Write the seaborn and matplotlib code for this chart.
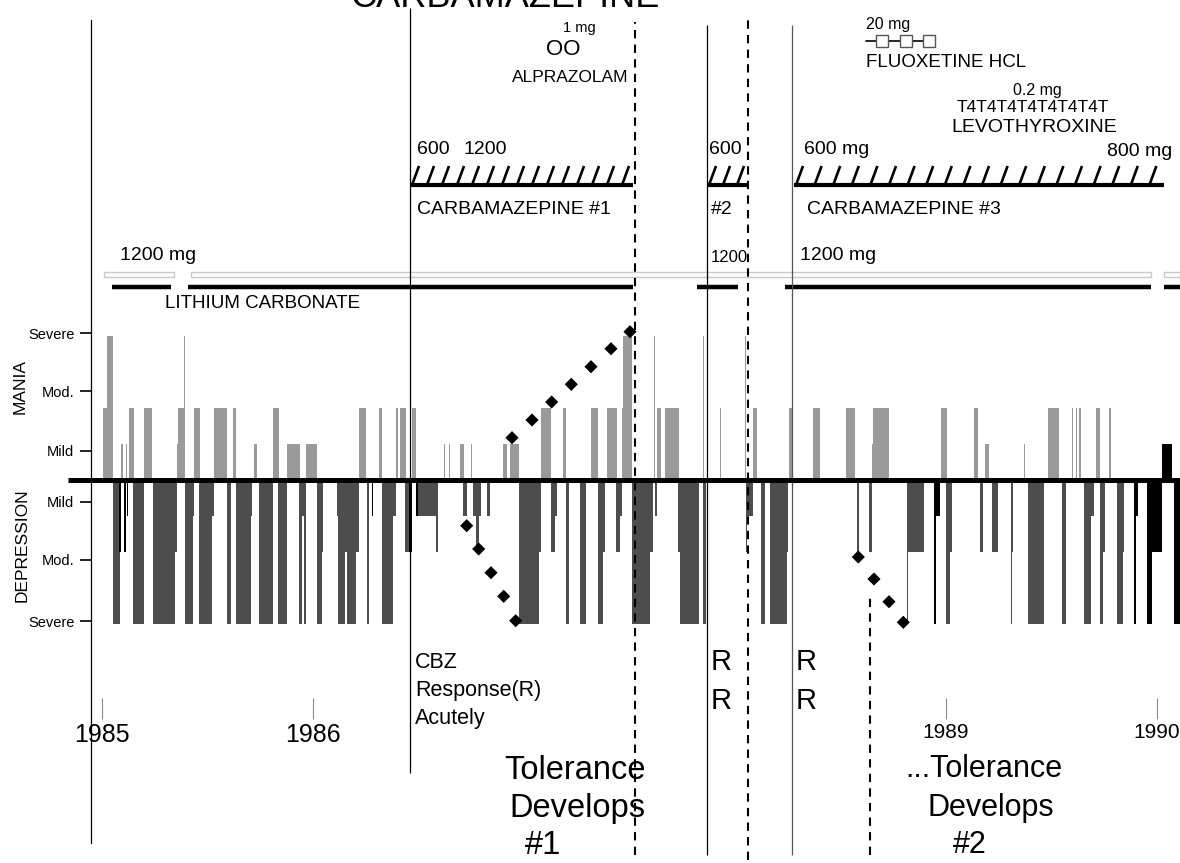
import numpy as np
import matplotlib
matplotlib.use("Agg")
import matplotlib.pyplot as plt
from matplotlib import font_manager as fm
from matplotlib.collections import LineCollection
import seaborn as sns

# ------------------------------------------------------------------ data
# Mood episodes in decimal years. Level: 1 = mild, 2 = moderate, 4 = severe
mania_start = [1985.0085, 1985.0275, 1985.0924, 1985.1161, 1985.1303, 1985.2014, 1985.3578, 1985.3640,
               1985.3924, 1985.4384, 1985.5332, 1985.6218, 1985.7227, 1985.8128, 1985.8806, 1985.9692,
               1986.2204, 1986.3166, 1986.3943, 1986.4147, 1986.4730, 1986.6232, 1986.6469, 1986.6991,
               1986.7512, 1986.9014, 1986.9360, 1987.0844, 1987.1872, 1987.3185, 1987.3972, 1987.4682,
               1987.4730, 1987.6199, 1987.6313, 1987.6706, 1987.8493, 1987.9313, 1988.0498, 1988.0891,
               1988.2569, 1988.3706, 1988.5284, 1988.6531, 1988.6578, 1988.9787, 1989.1351, 1989.1872,
               1989.3735, 1989.4844, 1989.6009, 1989.6171, 1989.6327, 1989.7133, 1989.7749]
mania_end = [1985.0275, 1985.0559, 1985.1033, 1985.1209, 1985.1540, 1985.2393, 1985.3640, 1985.3924,
             1985.3957, 1985.4668, 1985.5934, 1985.6374, 1985.7355, 1985.8412, 1985.9408, 1986.0199,
             1986.2521, 1986.3294, 1986.4038, 1986.4417, 1986.4891, 1986.6280, 1986.6517, 1986.7180,
             1986.7573, 1986.9204, 1986.9787, 1987.1289, 1987.2000, 1987.3531, 1987.4417, 1987.4730,
             1987.5156, 1987.6246, 1987.6517, 1987.7370, 1987.8540, 1987.9360, 1988.0545, 1988.1081,
             1988.2787, 1988.4052, 1988.5711, 1988.6578, 1988.7336, 1989.0057, 1989.1526, 1989.2062,
             1989.3768, 1989.5379, 1989.6057, 1989.6218, 1989.6408, 1989.7322, 1989.7829]
mania_level = [2, 4, 1, 1, 2, 2, 1, 2,
               4, 2, 2, 2, 1, 2, 1, 1,
               2, 2, 2, 2, 2, 1, 1, 1,
               1, 1, 1, 2, 2, 2, 2, 2,
               4, 4, 2, 2, 4, 2, 4, 2,
               2, 2, 2, 1, 2, 2, 2, 1,
               1, 2, 2, 2, 2, 2, 2]

depr_start = [1985.0559, 1985.1507, 1985.2427, 1985.3483, 1985.3957, 1985.4322, 1985.4635, 1985.5251,
              1985.5962, 1985.6360, 1985.7071, 1985.7464, 1985.8365, 1985.9374, 1985.9502, 1985.9597,
              1986.0199, 1986.0436, 1986.1147, 1986.1223, 1986.1540, 1986.1621, 1986.2062, 1986.2569,
              1986.3294, 1986.3815, 1986.4384, 1986.5014, 1986.5839, 1986.7118, 1986.7592, 1986.7749,
              1986.8284, 1986.9787, 1987.0735, 1987.1303, 1987.1493, 1987.2000, 1987.2664, 1987.3517,
              1987.3754, 1987.4398, 1987.4573, 1987.5156, 1987.5995, 1987.6246, 1987.7336, 1987.7431,
              1987.8521, 1988.0531, 1988.0578, 1988.1256, 1988.1682, 1988.2474, 1988.5820, 1988.6374,
              1988.8161, 1988.8237, 1989.0024, 1989.0213, 1989.1635, 1989.2204, 1989.3090, 1989.3152,
              1989.3896, 1989.5507, 1989.6564, 1989.6882, 1989.7322, 1989.7450, 1989.8114, 1989.8398]
depr_end = [1985.0877, 1985.2014, 1985.3483, 1985.3592, 1985.4322, 1985.4384, 1985.5251, 1985.5332,
            1985.6123, 1985.7071, 1985.7147, 1985.8128, 1985.8777, 1985.9502, 1985.9597, 1985.9692,
            1986.0436, 1986.0512, 1986.1223, 1986.1540, 1986.1621, 1986.2062, 1986.2204, 1986.2678,
            1986.3815, 1986.3943, 1986.4573, 1986.5839, 1986.5962, 1986.7308, 1986.7986, 1986.7891,
            1986.8412, 1987.0735, 1987.0844, 1987.1493, 1987.1573, 1987.2156, 1987.2948, 1987.3754,
            1987.3863, 1987.4573, 1987.4654, 1987.5995, 1987.6152, 1987.6313, 1987.7431, 1987.8332,
            1987.8635, 1988.0578, 1988.0891, 1988.1445, 1988.2474, 1988.2550, 1988.5915, 1988.6502,
            1988.8237, 1988.8981, 1989.0213, 1989.0294, 1989.1763, 1989.2474, 1989.3152, 1989.3213,
            1989.4682, 1989.5711, 1989.6882, 1989.7038, 1989.7450, 1989.7559, 1989.8398, 1989.8460]
depr_level = [-4, -4, -4, -2, -4, -1, -4, -1,
              -4, -4, -1, -4, -4, -4, -1, -4,
              -4, -2, -1, -4, -2, -4, -2, -4,
              -4, -1, -2, -1, -2, -1, -1, -2,
              -1, -4, -2, -2, -1, -4, -4, -4,
              -2, -2, -1, -4, -2, -1, -2, -4,
              -4, -2, -1, -4, -4, -2, -2, -2,
              -4, -2, -4, -2, -2, -2, -4, -2,
              -4, -4, -4, -1, -4, -2, -4, -2]

# Episodes drawn in solid black
marked_start = [1985.0848, 1985.1066, 1985.1209, 1986.2806, 1986.4573, 1986.4891, 1988.9455, 1988.9550,
                1989.8948, 1989.9028, 1989.9536, 1989.9773, 1990.0844, 1990.0275]
marked_end = [1985.0924, 1985.1161, 1985.1270, 1986.2882, 1986.4730, 1986.5014, 1988.9550, 1988.9739,
              1989.9028, 1989.9137, 1989.9773, 1990.0246, 1990.1114, 1990.0720]
marked_level = [-2, -2, -1, -1, -2, -1, -4, -1,
                -4, -1, -4, -2, -4, 1]

# Medication courses (decimal years)
lithium_on_start = [1985.0498, 1985.4100, 1987.8223, 1988.2393, 1990.0355]
lithium_on_end = [1985.3294, 1987.5190, 1988.0166, 1989.9739, 1990.1114]
lithium_band_start = [1985.0118, 1985.4242, 1990.0355]
lithium_band_end = [1985.3436, 1989.9739, 1990.1114]
cbz_start = [1986.4621, 1987.8697, 1988.2820]
cbz_end = [1987.5190, 1988.0592, 1990.0355]
fluoxetine_dose_dates = [1988.6991, 1988.8128, 1988.9218]
fluoxetine_first = 1988.6232

# Event markers (decimal years)
response_dates = [1986.4621, 1987.8697, 1988.2725]
tolerance_dates = [1987.5284, 1988.0640, 1988.6422]

# Tolerance trend (diamonds)
tol1_rise_x = [1986.9455, 1987.0403, 1987.1336, 1987.2265, 1987.3199, 1987.4147, 1987.5047]
tol1_rise_y = [1.175, 1.667, 2.167, 2.658, 3.147, 3.647, 4.119]
tol1_fall_x = [1986.7308, 1986.7877, 1986.8460, 1986.9062, 1986.9630]
tol1_fall_y = [-1.269, -1.917, -2.575, -3.231, -3.908]
tol2_fall_x = [1988.5867, 1988.6611, 1988.7322, 1988.8000]
tol2_fall_y = [-2.139, -2.750, -3.381, -3.953]

severity_ticks = [4.083, 2.472, 0.806, -0.611, -2.222, -3.917]
severity_labels = ["Severe", "Mod.", "Mild", "Mild", "Mod.", "Severe"]
year_ticks = [1985, 1986, 1989, 1990]
year_labels = ["1985", "1986", "1989", "1990"]

# ------------------------------------------------------------------ style
sns.set_theme(style="white")


def has_font(name):
    try:
        fm.findfont(fm.FontProperties(family=name), fallback_to_default=False)
        return True
    except Exception:
        return False


REG = "Liberation Sans" if has_font("Liberation Sans") else "DejaVu Sans"
plt.rcParams["font.family"] = [REG, "DejaVu Sans"]

MANIA_C = "#9a9a9a"
DEPR_C = "#4d4d4d"

W, H = 1180, 863
fig = plt.figure(figsize=(W / 100, H / 100), dpi=100)
fig.patch.set_facecolor("white")
AX_LEFT = 91
ax = fig.add_axes([AX_LEFT / W, 0, 1 - AX_LEFT / W, 1])
ax.set_facecolor("white")

X0, PXY, BASE, PXU = 101.5, 211.0, 480.0, 36.0


def fx(px):
    return 1985 + (px - X0) / PXY


def fy(py):
    return (BASE - py) / PXU


ax.set_xlim(fx(AX_LEFT), fx(W))
ax.set_ylim(fy(H), fy(0))

# ------------------------------------------------------------------ mood bars
for s, e, lv, c in [(mania_start, mania_end, mania_level, MANIA_C),
                    (depr_start, depr_end, depr_level, DEPR_C),
                    (marked_start, marked_end, marked_level, "black")]:
    s = np.asarray(s)
    e = np.asarray(e)
    ax.bar(s, lv, width=e - s, align="edge", color=c, linewidth=0, zorder=2)

# baseline
ax.hlines(0, fx(68), fx(W), color="black", lw=3.6, zorder=5, clip_on=False)

# ------------------------------------------------------------------ event lines
resp_tops = [8, 25, 25]
resp_bottoms = [773, 855, 855]
resp_colors = ["black", "black", "#555555"]
for d, t, b, c in zip(response_dates, resp_tops, resp_bottoms, resp_colors):
    ax.vlines(d, fy(b), fy(t), color=c, lw=0.9, zorder=4)
tol_tops = [22, 18, 596]
tol_bottoms = [855, 860, 855]
for d, t, b in zip(tolerance_dates, tol_tops, tol_bottoms):
    ax.vlines(d, fy(b), fy(t), color="black", lw=1.5, linestyles=(0, (4, 3)), zorder=4)

# ------------------------------------------------------------------ tolerance diamonds
for xs, ys in [(tol1_rise_x, tol1_rise_y), (tol1_fall_x, tol1_fall_y), (tol2_fall_x, tol2_fall_y)]:
    sns.scatterplot(x=xs, y=ys, marker="D", s=45, color="black", edgecolor="none",
                    ax=ax, zorder=6, legend=False)

# ------------------------------------------------------------------ lithium
for s, e in zip(lithium_band_start, lithium_band_end):
    ax.bar(s, fy(272) - fy(277), bottom=fy(277), width=e - s, align="edge",
           facecolor="white", edgecolor="#c8c8c8", linewidth=1.0, zorder=2)
ax.hlines([fy(287)] * len(lithium_on_start), lithium_on_start, lithium_on_end,
          color="black", lw=3.2, zorder=3)

# ------------------------------------------------------------------ carbamazepine (hatched)
hatch_step = [15, 14, 18.6]
segs = []
for s, e, st in zip(cbz_start, cbz_end, hatch_step):
    for x0 in np.arange(s + 2 / PXY, e - 6 / PXY, st / PXY):
        segs.append([(x0, fy(185)), (x0 + 7 / PXY, fy(166))])
ax.add_collection(LineCollection(segs, colors="black", linewidths=1.9, zorder=3, capstyle="butt"))
ax.hlines([fy(185.5)] * len(cbz_start), cbz_start, cbz_end, color="black", lw=3.0, zorder=3)

# ------------------------------------------------------------------ fluoxetine
ax.plot([fluoxetine_first] + fluoxetine_dose_dates, [fy(41)] * 4, color="black", lw=1.2,
        marker="s", markevery=[1, 2, 3], ms=8.5, mfc="white", mec="#555555", mew=1.0, zorder=3)


# ------------------------------------------------------------------ texts
def T(px, py, s, size, ha="left", va="center", **kw):
    ax.text(fx(px), fy(py), s, fontsize=size, ha=ha, va=va,
            color="black", clip_on=False, zorder=7, **kw)


T(505, 7, "CARBAMAZEPINE", 26, ha="center", va="baseline")
T(579, 28, "1 mg", 10.5, ha="center")
T(563, 50, "OO", 16, ha="center")
T(570, 78, "ALPRAZOLAM", 12.5, ha="center")
T(866, 24, "20 mg", 11.5)
T(866, 63, "FLUOXETINE HCL", 13.5)
T(1037, 91, "0.2 mg", 11.5, ha="center")
T(1033, 108, "T4T4T4T4T4T4T4T", 12.5, ha="center")
T(1034, 127, "LEVOTHYROXINE", 14, ha="center")
T(417, 149, "600", 14)
T(463, 149, "1200", 14)
T(709, 149, "600", 14)
T(804, 149, "600 mg", 14)
T(1172, 151, "800 mg", 14, ha="right")
T(417, 209, "CARBAMAZEPINE #1", 14)
T(711, 209, "#2", 14)
T(807, 209, "CARBAMAZEPINE #3", 14)
T(120, 256, "1200 mg", 14)
T(711, 257, "1200", 12)
T(800, 256, "1200 mg", 14)
T(165, 304, "LITHIUM CARBONATE", 13.5)

T(415, 662, "CBZ", 15.5)
T(415, 690, "Response(R)", 15.5)
T(415, 718, "Acutely", 15.5)
for px in (711, 796):
    T(px, 662, "R", 21)
    T(px, 701, "R", 21)
T(575, 770, "Tolerance", 23.5, ha="center")
T(577, 808, "Develops", 23.5, ha="center")
T(543, 845, "#1", 23.5, ha="center")
T(905, 769, "...Tolerance", 22)
T(927, 808, "Develops", 22)
T(953, 845, "#2", 22)

T(20, 387, "MANIA", 12.5, ha="center", rotation=90)
T(22, 545, "DEPRESSION", 12.5, ha="center", rotation=90)

# ------------------------------------------------------------------ axes furniture
for side in ("top", "right"):
    ax.spines[side].set_visible(False)
ax.spines["left"].set_bounds(fy(843), fy(20))
ax.spines["left"].set_color("black")
ax.spines["left"].set_linewidth(0.9)
ax.spines["bottom"].set_position(("data", fy(719)))
ax.spines["bottom"].set_visible(False)

ax.set_yticks(severity_ticks)
ax.set_yticklabels(severity_labels)
ax.tick_params(axis="y", which="major", left=True, direction="out", length=8, width=1.2,
               color="black", pad=4, labelsize=10.5, labelcolor="black")

ax.set_xticks(year_ticks)
ax.set_xticklabels(year_labels)
ax.tick_params(axis="x", which="major", bottom=True, direction="in", length=15, width=0.8,
               color="#888888", pad=3, labelsize=18, labelcolor="black")
for lab in ax.get_xticklabels():
    if lab.get_text() in ("1989", "1990"):
        lab.set_fontsize(15)
ax.grid(False)

fig.savefig("out.png", dpi=100, facecolor="white")
